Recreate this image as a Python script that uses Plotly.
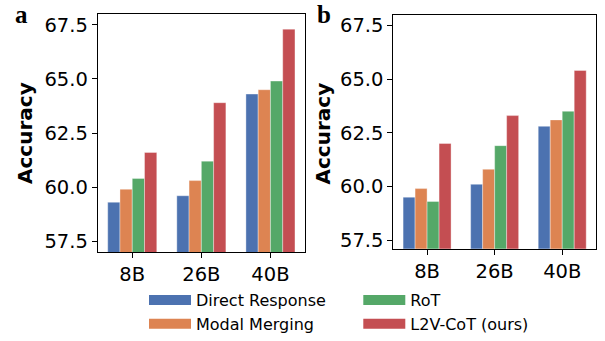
import plotly.graph_objects as go

W, H = 605, 341

categories = ["8B", "26B", "40B"]
series_names = ["Direct Response", "Modal Merging", "RoT", "L2V-CoT (ours)"]
colors = ["#4C72B0", "#DD8452", "#55A868", "#C44E52"]

# Panel a values
a_direct = [59.3, 59.6, 64.3]
a_modal = [59.9, 60.3, 64.5]
a_rot = [60.4, 61.2, 64.9]
a_l2v = [61.6, 63.9, 67.3]

# Panel b values
b_direct = [59.5, 60.1, 62.8]
b_modal = [59.9, 60.8, 63.1]
b_rot = [59.3, 61.9, 63.5]
b_l2v = [62.0, 63.3, 65.4]

y_ticks = [57.5, 60.0, 62.5, 65.0, 67.5]
y_tick_text = ["57.5", "60.0", "62.5", "65.0", "67.5"]

panel_a = [a_direct, a_modal, a_rot, a_l2v]
panel_b = [b_direct, b_modal, b_rot, b_l2v]

fig = go.Figure()

bar_edge = dict(color="rgba(255,255,255,0.6)", width=0.6)
for vals, name, col in zip(panel_a, series_names, colors):
    fig.add_trace(go.Bar(x=categories, y=vals, name=name, marker=dict(color=col, line=bar_edge),
                         xaxis="x", yaxis="y", showlegend=False))
for vals, name, col in zip(panel_b, series_names, colors):
    fig.add_trace(go.Bar(x=categories, y=vals, name=name, marker=dict(color=col, line=bar_edge),
                         xaxis="x2", yaxis="y2", showlegend=False))

# legend entries (patch-like swatches)
for i, (name, col) in enumerate(zip(series_names, colors)):
    fig.add_trace(go.Scatter(x=[None], y=[None], mode="lines", name=name,
                             line=dict(color=col, width=11),
                             xaxis="x", yaxis="y", showlegend=True,
                             legend="legend" if i < 2 else "legend2"))

axis_common = dict(showline=True, linecolor="black", linewidth=1, mirror=True,
                   ticks="outside", ticklen=5, tickwidth=1, tickcolor="black",
                   showgrid=False, zeroline=False, automargin=False,
                   tickfont=dict(family="DejaVu Sans", size=19.5, color="black"))

legend_common = dict(xanchor="left", yanchor="bottom", orientation="v",
                     itemwidth=42, bgcolor="rgba(0,0,0,0)", borderwidth=0,
                     font=dict(family="DejaVu Sans", size=16, color="black"), tracegroupgap=0)

fig.update_layout(
    width=W, height=H,
    margin=dict(l=0, r=0, t=0, b=0),
    paper_bgcolor="white", plot_bgcolor="white",
    barmode="group", bargap=0.29, bargroupgap=0,
    xaxis=dict(domain=[97.7 / W, 305 / W], anchor="y", range=[-0.5, 2.5], **axis_common),
    yaxis=dict(domain=[1 - 252 / H, 1 - 14 / H], anchor="x", range=[57.0, 68.0],
               tickvals=y_ticks, ticktext=y_tick_text, **axis_common),
    xaxis2=dict(domain=[393.3 / W, 596 / W], anchor="y2", range=[-0.5, 2.5], **axis_common),
    yaxis2=dict(domain=[1 - 248.7 / H, 1 - 14.7 / H], anchor="x2", range=[57.1, 68.0],
                tickvals=y_ticks, ticktext=y_tick_text, **axis_common),
    legend=dict(x=144 / W, y=0, **legend_common),
    legend2=dict(x=358.3 / W, y=0, **legend_common),
    annotations=[
        dict(text="<b>Accuracy</b>", x=25 / W, y=1 - 133 / H, xref="paper", yref="paper",
             xanchor="center", yanchor="middle", textangle=-90, showarrow=False,
             font=dict(family="DejaVu Sans", size=20, color="black")),
        dict(text="<b>Accuracy</b>", x=322 / W, y=1 - 133.5 / H, xref="paper", yref="paper",
             xanchor="center", yanchor="middle", textangle=-90, showarrow=False,
             font=dict(family="DejaVu Sans", size=20, color="black")),
        dict(text="<b>a</b>", x=21.5 / W, y=1.0, xref="paper", yref="paper",
             xanchor="center", yanchor="top", showarrow=False, borderpad=0,
             font=dict(family="Liberation Serif", size=25, color="black")),
        dict(text="<b>b</b>", x=323.8 / W, y=1.0, xref="paper", yref="paper",
             xanchor="center", yanchor="top", showarrow=False, borderpad=0,
             font=dict(family="Liberation Serif", size=25, color="black")),
    ],
)

fig.write_html("out.html", config={"displayModeBar": False},
               post_script="document.body.style.margin='0';")
